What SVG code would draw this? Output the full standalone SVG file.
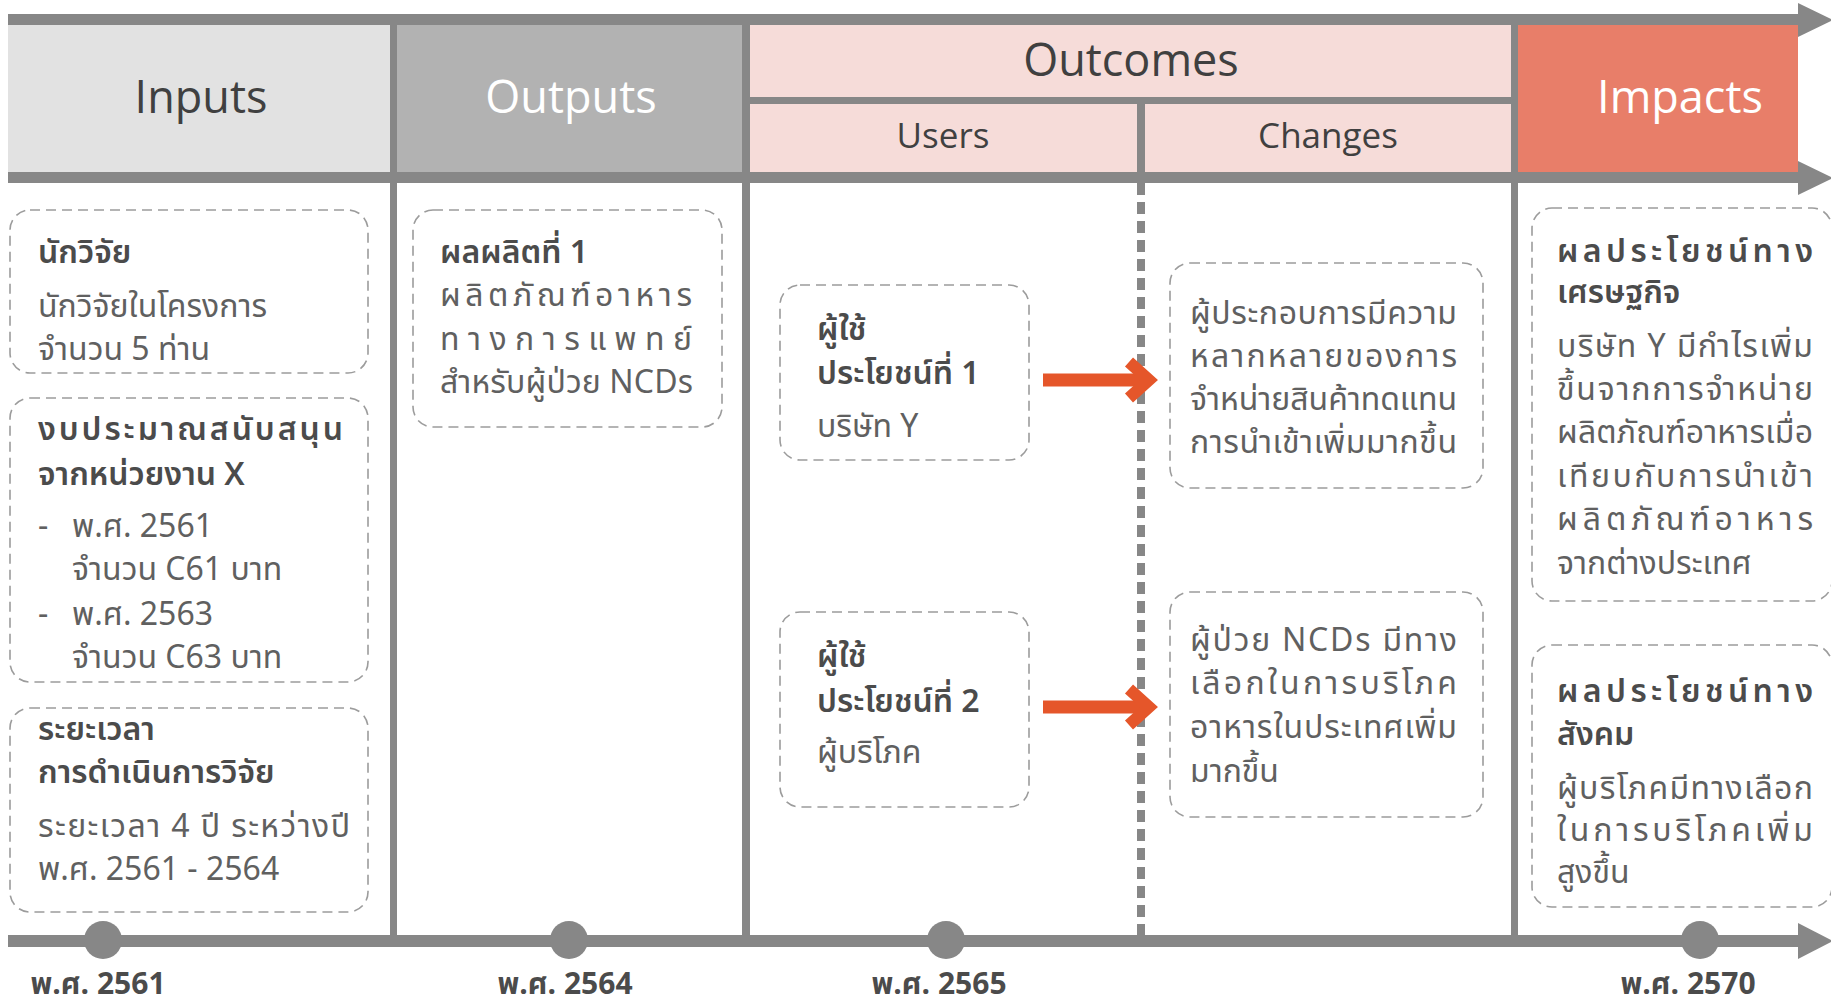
<svg xmlns="http://www.w3.org/2000/svg" width="1831" height="1005" viewBox="0 0 1831 1005">
<defs>
<style>
.hd{font-family:'Open Sans','Noto Sans',sans-serif;font-size:45px;fill:#404040;text-anchor:middle}
.hs{font-size:35px}
.wh{fill:#ffffff}
.t{font-family:'Noto Sans Thai','Noto Sans','DejaVu Sans',sans-serif;font-size:32px;fill:#606060}
.b{font-weight:600;fill:#4b4b4b}
.box{fill:#ffffff;stroke:#9c9c9c;stroke-width:1.6;stroke-dasharray:10 6}
.band{fill:#878787}
.yr{font-family:'Noto Sans Thai','Noto Sans','DejaVu Sans',sans-serif;font-size:30px;font-weight:700;fill:#4b4b4b;text-anchor:middle}
.arr{stroke:#E5562A;stroke-width:13;fill:none}
</style>
<marker id="chev" markerUnits="userSpaceOnUse" viewBox="-40 -30 50 60" markerWidth="50" markerHeight="60" refX="0" refY="0" orient="auto">
<path d="M-20,-18 L0,0 L-20,18" fill="none" stroke="#E5562A" stroke-width="12"/>
</marker>
</defs>
<rect width="1831" height="1005" fill="#ffffff"/>

<g id="header">
<rect x="8" y="25" width="382" height="148" fill="#E2E2E2"/>
<rect x="397" y="25" width="345" height="148" fill="#B2B2B2"/>
<rect x="750" y="25" width="761" height="72" fill="#F6DCD9"/>
<rect x="750" y="104" width="387" height="68" fill="#F6DCD9"/>
<rect x="1145" y="104" width="366" height="68" fill="#F6DCD9"/>
<rect x="1518" y="25" width="280" height="148" fill="#E87E69"/>
<rect class="band" x="750" y="97" width="761" height="7"/>
<rect class="band" x="1137" y="104" width="8" height="68"/>
<text class="hd" x="201" y="113">Inputs</text>
<text class="hd wh" x="571" y="113">Outputs</text>
<text class="hd" x="1131" y="76">Outcomes</text>
<text class="hd hs" x="943" y="148">Users</text>
<text class="hd hs" x="1328" y="148">Changes</text>
<text class="hd wh" x="1680" y="113">Impacts</text>
</g>

<g id="frame">
<rect class="band" x="8" y="14" width="1790" height="11"/>
<polygon class="band" points="1798,3 1833,20 1798,37"/>
<rect class="band" x="8" y="172" width="1790" height="11"/>
<polygon class="band" points="1798,161 1833,178 1798,195"/>
<rect class="band" x="390" y="25" width="7" height="916"/>
<rect class="band" x="742" y="25" width="8" height="916"/>
<rect class="band" x="1511" y="25" width="7" height="916"/>
<line x1="1141" y1="183" x2="1141" y2="935" stroke="#878787" stroke-width="8" stroke-dasharray="12 7"/>
<rect class="band" x="8" y="935" width="1790" height="12"/>
<polygon class="band" points="1798,923 1833,941 1798,959"/>
<circle class="band" cx="103" cy="940" r="19"/>
<circle class="band" cx="569" cy="940" r="19"/>
<circle class="band" cx="946" cy="940" r="19"/>
<circle class="band" cx="1700" cy="940" r="19"/>
<text class="yr" x="98" y="994">พ.ศ. 2561</text>
<text class="yr" x="565" y="994">พ.ศ. 2564</text>
<text class="yr" x="939" y="994">พ.ศ. 2565</text>
<text class="yr" x="1688" y="994">พ.ศ. 2570</text>
</g>

<g id="input-researcher">
<rect class="box" x="10" y="210" width="358" height="163" rx="20"/>
<text class="t b" x="38" y="263">นักวิจัย</text>
<text class="t" x="38" y="317">นักวิจัยในโครงการ</text>
<text class="t" x="38" y="360">จำนวน 5 ท่าน</text>
</g>

<g id="input-budget">
<rect class="box" x="10" y="398" width="358" height="284" rx="20"/>
<text class="t b" x="38" y="440" textLength="305" lengthAdjust="spacing">งบประมาณสนับสนุน</text>
<text class="t b" x="38" y="485">จากหน่วยงาน X</text>
<text class="t" x="38" y="537">-</text>
<text class="t" x="72" y="537">พ.ศ. 2561</text>
<text class="t" x="72" y="580">จำนวน C61 บาท</text>
<text class="t" x="38" y="625">-</text>
<text class="t" x="72" y="625">พ.ศ. 2563</text>
<text class="t" x="72" y="668">จำนวน C63 บาท</text>
</g>

<g id="input-duration">
<rect class="box" x="10" y="708" width="358" height="204" rx="20"/>
<text class="t b" x="38" y="740">ระยะเวลา</text>
<text class="t b" x="38" y="783">การดำเนินการวิจัย</text>
<text class="t" x="38" y="837" textLength="312" lengthAdjust="spacing">ระยะเวลา 4 ปี ระหว่างปี</text>
<text class="t" x="38" y="880">พ.ศ. 2561 - 2564</text>
</g>

<g id="output-1">
<rect class="box" x="413" y="210" width="309" height="217" rx="20"/>
<text class="t b" x="440" y="263">ผลผลิตที่ 1</text>
<text class="t" x="440" y="306" textLength="252" lengthAdjust="spacing">ผลิตภัณฑ์อาหาร</text>
<text class="t" x="440" y="350" textLength="252" lengthAdjust="spacing">ทางการแพทย์</text>
<text class="t" x="440" y="393" textLength="253" lengthAdjust="spacing">สำหรับผู้ป่วย NCDs</text>
</g>

<g id="user-1">
<rect class="box" x="780" y="285" width="249" height="175" rx="20"/>
<text class="t b" x="817" y="340">ผู้ใช้</text>
<text class="t b" x="817" y="384">ประโยชน์ที่ 1</text>
<text class="t" x="817" y="437">บริษัท Y</text>
</g>

<g id="user-2">
<rect class="box" x="780" y="612" width="249" height="195" rx="20"/>
<text class="t b" x="817" y="667">ผู้ใช้</text>
<text class="t b" x="817" y="712">ประโยชน์ที่ 2</text>
<text class="t" x="817" y="763">ผู้บริโภค</text>
</g>

<g id="change-1">
<rect class="box" x="1170" y="263" width="313" height="225" rx="20"/>
<text class="t" x="1190" y="324" textLength="267" lengthAdjust="spacing">ผู้ประกอบการมีความ</text>
<text class="t" x="1190" y="367" textLength="267" lengthAdjust="spacing">หลากหลายของการ</text>
<text class="t" x="1190" y="410" textLength="267" lengthAdjust="spacing">จำหน่ายสินค้าทดแทน</text>
<text class="t" x="1190" y="453" textLength="267" lengthAdjust="spacing">การนำเข้าเพิ่มมากขึ้น</text>
</g>

<g id="change-2">
<rect class="box" x="1170" y="592" width="313" height="225" rx="20"/>
<text class="t" x="1190" y="651" textLength="267" lengthAdjust="spacing">ผู้ป่วย NCDs มีทาง</text>
<text class="t" x="1190" y="694" textLength="267" lengthAdjust="spacing">เลือกในการบริโภค</text>
<text class="t" x="1190" y="738" textLength="267" lengthAdjust="spacing">อาหารในประเทศเพิ่ม</text>
<text class="t" x="1190" y="782">มากขึ้น</text>
</g>

<g id="impact-economic">
<rect class="box" x="1532" y="208" width="300" height="393" rx="20"/>
<text class="t b" x="1557" y="262" textLength="256" lengthAdjust="spacing">ผลประโยชน์ทาง</text>
<text class="t b" x="1557" y="303">เศรษฐกิจ</text>
<text class="t" x="1557" y="357" textLength="256" lengthAdjust="spacing">บริษัท Y มีกำไรเพิ่ม</text>
<text class="t" x="1557" y="400" textLength="256" lengthAdjust="spacing">ขึ้นจากการจำหน่าย</text>
<text class="t" x="1557" y="443" textLength="256" lengthAdjust="spacing">ผลิตภัณฑ์อาหารเมื่อ</text>
<text class="t" x="1557" y="487" textLength="256" lengthAdjust="spacing">เทียบกับการนำเข้า</text>
<text class="t" x="1557" y="530" textLength="256" lengthAdjust="spacing">ผลิตภัณฑ์อาหาร</text>
<text class="t" x="1557" y="574">จากต่างประเทศ</text>
</g>

<g id="impact-social">
<rect class="box" x="1532" y="645" width="300" height="262" rx="20"/>
<text class="t b" x="1557" y="702" textLength="256" lengthAdjust="spacing">ผลประโยชน์ทาง</text>
<text class="t b" x="1557" y="745">สังคม</text>
<text class="t" x="1557" y="799" textLength="256" lengthAdjust="spacing">ผู้บริโภคมีทางเลือก</text>
<text class="t" x="1557" y="841" textLength="256" lengthAdjust="spacing">ในการบริโภคเพิ่ม</text>
<text class="t" x="1557" y="883">สูงขึ้น</text>
</g>

<g id="connectors">
<line class="arr" x1="1043" y1="380" x2="1149" y2="380" marker-end="url(#chev)"/>
<line class="arr" x1="1043" y1="707" x2="1149" y2="707" marker-end="url(#chev)"/>
</g>
</svg>
